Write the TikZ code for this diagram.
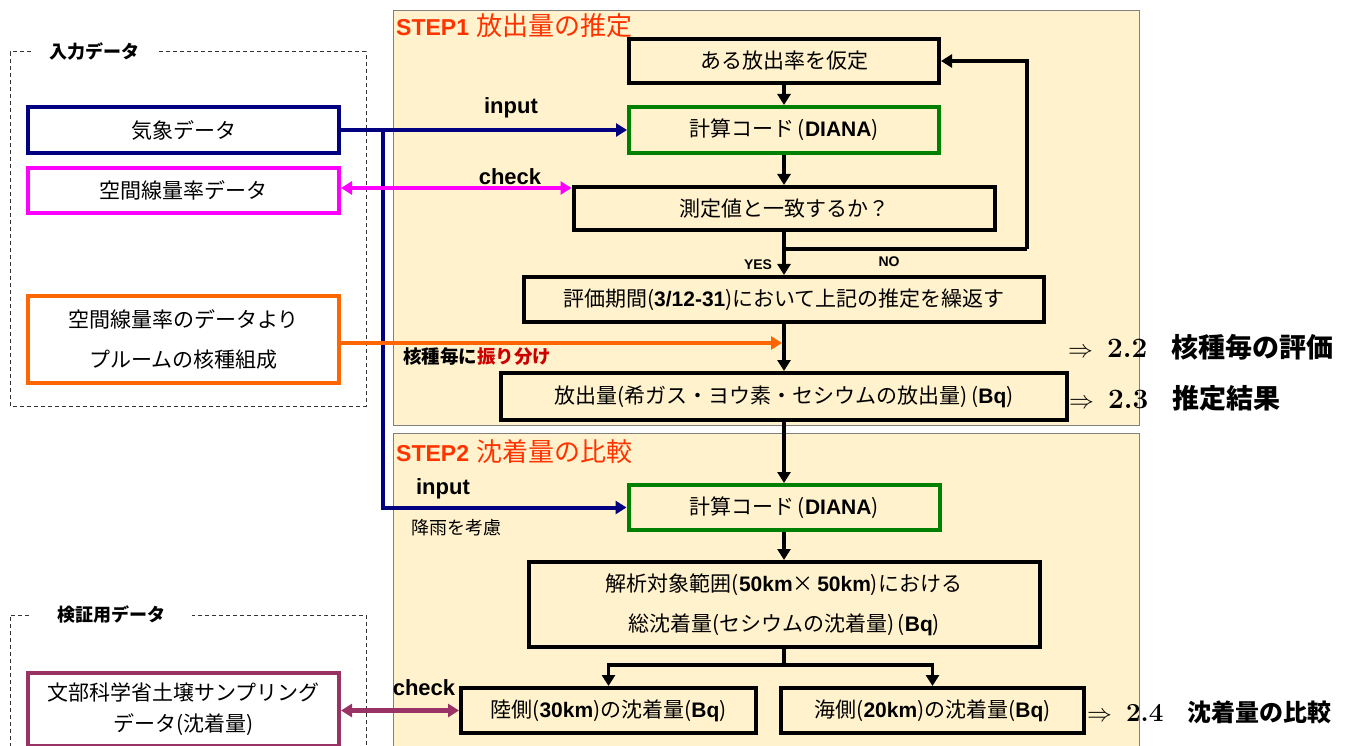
\documentclass[tikz,border=0pt]{standalone}
\usepackage{fontspec}
\newfontfamily\jp{Noto Sans CJK JP}
\newfontfamily\lat{Liberation Sans}
\usetikzlibrary{arrows.meta}
\definecolor{panelfill}{HTML}{FFF2CC}
\definecolor{panelline}{HTML}{7F7F7F}
\definecolor{navyc}{HTML}{000080}
\definecolor{magc}{HTML}{FF00FF}
\definecolor{orgc}{HTML}{FF6600}
\definecolor{grnc}{HTML}{008000}
\definecolor{purc}{HTML}{993366}
\definecolor{titlec}{HTML}{FF3300}
\definecolor{redc}{HTML}{CC0000}
\newcommand{\bl}[1]{{\lat\bfseries #1}}
\begin{document}
\begin{tikzpicture}[x=1pt,y=-1pt,
  bx/.style={draw, line width=4pt, inner sep=0pt, align=center,
    font=\jp\fontsize{21}{40}\selectfont},
  lbox/.style={bx, fill=white},
  pbox/.style={bx},
  arr/.style={-{Triangle[length=11pt,width=13pt]}, line width=3.5pt},
  darr/.style={{Triangle[length=11pt,width=13pt]}-{Triangle[length=11pt,width=13pt]}, line width=4.5pt},
  panel/.style={fill=panelfill, draw=panelline, line width=1pt},
  dash box/.style={draw=black!80, line width=1pt, dash pattern=on 4pt off 3pt},
  lbl/.style={font=\lat\bfseries\fontsize{22}{22}\selectfont, inner sep=0pt},
  yn/.style={font=\lat\bfseries\fontsize{14}{14}\selectfont, inner sep=0pt},
  ttl/.style={anchor=west, inner sep=0pt, text=titlec},
  grp/.style={font=\jp\bfseries\fontsize{18}{18}\selectfont, inner sep=0pt, fill=white},
  ref/.style={anchor=west, inner sep=0pt}
]
\useasboundingbox (0,0) rectangle (1366,746);

% panels
\path[panel] (393,11) rectangle (1139,425);
\path[panel] (393,433) rectangle (1139,752);
\node[ttl] (t1) at (396,26) {\bl{\fontsize{23}{23}\selectfont STEP1}\hspace{7pt}{\jp\fontsize{26}{26}\selectfont 放出量の推定}};
\node[ttl] (t2) at (396,452) {\bl{\fontsize{23}{23}\selectfont STEP2}\hspace{7pt}{\jp\fontsize{26}{26}\selectfont 沈着量の比較}};

% dashed groups
\draw[dash box] (31,52) -- (10,52) -- (10,406) -- (366,406) -- (366,52) -- (158,52);
\draw[dash box] (29,615) -- (10,615) -- (10,752);
\draw[dash box] (366,752) -- (366,615) -- (192,615);
\node[grp] (g1) at (94,52) {入力データ};
\node[grp] (g2) at (111,615) {検証用データ};

% left boxes
\node[lbox, draw=navyc, minimum width=311pt, minimum height=46pt] (kisho) at (183.5,130) {気象データ};
\node[lbox, draw=magc, minimum width=311pt, minimum height=45pt] (kukan) at (183.5,190.5) {空間線量率データ};
\node[lbox, draw=orgc, minimum width=311pt, minimum height=87pt] (plume) at (183.5,339.5) {空間線量率のデータより\\プルームの核種組成};
\node[lbox, draw=purc, minimum width=311pt, minimum height=73pt, font=\jp\fontsize{21}{31}\selectfont] (monbu) at (183.5,709.5) {文部科学省土壌サンプリング\\データ(沈着量)};

% STEP1 boxes
\node[pbox, minimum width=310pt, minimum height=44pt] (assume) at (784,61) {ある放出率を仮定};
\node[pbox, draw=grnc, minimum width=310pt, minimum height=46pt] (calc1) at (784,130) {計算コード\,(\bl{DIANA})};
\node[pbox, minimum width=421pt, minimum height=43pt] (judge) at (784,208.5) {測定値と一致するか？};
\node[pbox, minimum width=520pt, minimum height=45pt] (eval) at (784,299.5) {評価期間(\bl{3/12-31})において上記の推定を繰返す};
\node[pbox, minimum width=566pt, minimum height=47pt] (release) at (784,396.5) {放出量(希ガス・ヨウ素・セシウムの放出量)\,(\bl{Bq})};

% STEP2 boxes
\node[pbox, draw=grnc, minimum width=311pt, minimum height=45pt] (calc2) at (784,507.5) {計算コード\,(\bl{DIANA})};
\node[pbox, minimum width=511pt, minimum height=85pt] (ana) at (784,604.5) {解析対象範囲(\bl{50km}×\,\bl{50km})における\\総沈着量(セシウムの沈着量)\,(\bl{Bq})};
\node[pbox, minimum width=295pt, minimum height=45pt] (land) at (608.5,710.5) {陸側(\bl{30km})の沈着量(\bl{Bq})};
\node[pbox, minimum width=303pt, minimum height=45pt] (sea) at (932.5,710.5) {海側(\bl{20km})の沈着量(\bl{Bq})};

% coordinates
\coordinate (nb) at (383,130);
\coordinate (lp) at (784,249);
\coordinate (lpr) at (1027,249);
\coordinate (merge) at (782,343);
\coordinate (br) at (784,665);

% STEP1 flow
\draw[arr] (assume) -- (calc1);
\draw[arr] (calc1) -- (judge);
\draw[arr] (judge) -- (eval);
\draw[line width=3.5pt] (lp) -- (lpr);
\draw[arr] (lpr) |- (assume.east);
\draw[arr] (eval) -- (release);
\draw[arr] (release) -- (calc2);
\node[yn] (yes) at (758,265) {YES};
\node[yn] (no) at (889,262) {NO};

% STEP2 flow
\draw[arr] (calc2) -- (ana);
\draw[line width=3.5pt] (ana.south) -- (br);
\draw[arr] (br) -| (land.north);
\draw[arr] (br) -| (sea.north);

% inputs
\draw[arr, draw=navyc, line width=4pt] (kisho.east) -- (calc1.west);
\draw[arr, draw=navyc, line width=4pt] (nb) |- (calc2.west);
\draw[darr, draw=magc] (kukan.east |- 0,188) -- (judge.west |- 0,188);
\draw[arr, draw=orgc, line width=4.5pt] (plume.east |- merge) -- (merge);
\draw[darr, draw=purc] (monbu.east |- land.west) -- (land.west);

\node[lbl] (in1) at (511,108) {input};
\node[lbl] (ch1) at (510,177) {check};
\node[lbl] (in2) at (443,489) {input};
\node[lbl] (ch2) at (424,688) {check};
\node[inner sep=0pt, font=\jp\fontsize{18}{18}\selectfont] (rain) at (456,528) {降雨を考慮};
\node[inner sep=0pt, font=\jp\bfseries\fontsize{18.5}{18.5}\selectfont] (split) at (477,357) {核種毎に\textcolor{redc}{振り分け}};

% references
\node[ref] (r22) at (1068,347) {\fontsize{28}{28}\selectfont$\Rightarrow$\hspace{14pt}\textbf{2.2}\hspace{24pt}{\jp\bfseries\fontsize{27}{27}\selectfont 核種毎の評価}};
\node[ref] (r23) at (1069,398) {\fontsize{28}{28}\selectfont$\Rightarrow$\hspace{14pt}\textbf{2.3}\hspace{24pt}{\jp\bfseries\fontsize{27}{27}\selectfont 推定結果}};
\node[ref] (r24) at (1087,712) {\fontsize{26}{26}\selectfont$\Rightarrow$\hspace{14pt}\textbf{2.4}\hspace{24pt}{\jp\bfseries\fontsize{24}{24}\selectfont 沈着量の比較}};
\end{tikzpicture}
\end{document}
